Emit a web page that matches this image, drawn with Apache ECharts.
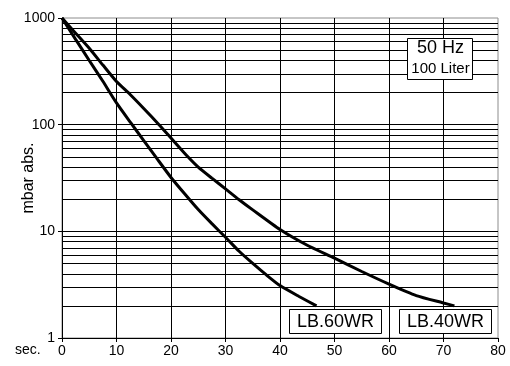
<!DOCTYPE html>
<html>
<head>
<meta charset="utf-8">
<script src="https://cdn.jsdelivr.net/npm/echarts@6/dist/echarts.min.js"></script>
<style>html,body{margin:0;padding:0;background:#fff}#c{width:510px;height:366px}</style>
</head>
<body>
<div id="c"></div>
<script>
const lb60Time = [0, 2.5, 5, 7.5, 10, 12.5, 15, 17.5, 20, 22.5, 25, 27.5, 30, 32.5, 35, 37.5, 40, 43.5, 46.7];
const lb60Pressure = [1000, 630, 400, 255, 160, 106, 71, 47.5, 32, 22.5, 16, 11.8, 8.8, 6.5, 5.0, 3.9, 3.1, 2.45, 2.0];
const lb40Time = [0, 2.5, 5, 7.5, 10, 12.5, 15, 17.8, 20, 23.1, 25, 27.5, 30, 32.5, 35, 40, 45, 50, 55, 60, 65, 70, 72];
const lb40Pressure = [1000, 720, 520, 362, 254, 192, 142, 100, 75, 50, 40, 31.5, 25, 19.8, 15.9, 10.4, 7.4, 5.6, 4.2, 3.2, 2.5, 2.13, 2.0];
const xTicks = [0, 10, 20, 30, 40, 50, 60, 70, 80];
const yTicks = [1, 10, 100, 1000];
const minorGrid = [2,3,4,5,6,7,8,9,20,30,40,50,60,70,80,90,200,300,400,500,600,700,800,900];
const seriesNames = ['LB.60WR', 'LB.40WR'];

const font = '"Liberation Sans", Arial, sans-serif';
const chart = echarts.init(document.getElementById('c'), null, {renderer: 'canvas'});
const zip = (a, b) => a.map((v, i) => [v, b[i]]);

chart.setOption({
  animation: false,
  backgroundColor: '#fff',
  grid: {left: 62, right: 12, top: 18, bottom: 28, containLabel: false, outerBoundsMode: 'none',
         show: true, borderColor: '#8c8c8c', borderWidth: 1, backgroundColor: 'transparent'},
  xAxis: {
    type: 'value', min: xTicks[0], max: xTicks[xTicks.length - 1], interval: 10,
    axisLine: {show: true, onZero: false, lineStyle: {color: '#000', width: 1}},
    axisTick: {show: true, length: 4, lineStyle: {color: '#000'}},
    axisLabel: {color: '#000', fontFamily: font, fontSize: 14, margin: 6},
    splitLine: {show: true, showMinLine: false, showMaxLine: false, lineStyle: {color: '#000', width: 1}}
  },
  yAxis: {
    type: 'log', logBase: 10, min: yTicks[0], max: yTicks[yTicks.length - 1],
    axisLine: {show: true, lineStyle: {color: '#000', width: 1}},
    axisTick: {show: true, length: 4, lineStyle: {color: '#000'}},
    axisLabel: {color: '#000', fontFamily: font, fontSize: 14, margin: 7, formatter: v => String(v)},
    splitLine: {show: true, showMinLine: false, showMaxLine: false, lineStyle: {color: '#000', width: 1}},
    name: 'mbar abs.', nameLocation: 'middle', nameGap: 25, nameRotate: 90, nameMoveOverlap: false,
    nameTextStyle: {color: '#000', fontFamily: font, fontSize: 16}
  },
  series: [
    {
      name: seriesNames[0], type: 'line', data: zip(lb60Time, lb60Pressure), smooth: 0.2,
      showSymbol: false, lineStyle: {color: '#000', width: 3}, z: 5,
      markLine: {
        silent: true, symbol: 'none', label: {show: false},
        lineStyle: {color: '#000', width: 1, type: 'solid'},
        data: minorGrid.map(v => ({yAxis: v})), z: 1
      }
    },
    {
      name: seriesNames[1], type: 'line', data: zip(lb40Time, lb40Pressure), smooth: 0.2,
      showSymbol: false, lineStyle: {color: '#000', width: 3}, z: 5
    }
  ],
  graphic: [
    {type: 'text', left: 15, top: 343, style: {text: 'sec.', fill: '#000', font: '14px ' + font}},
    {type: 'rect', shape: {x: 407.5, y: 38.5, width: 65, height: 41}, style: {fill: '#fff', stroke: '#000', lineWidth: 1}, z: 10},
    {type: 'text', x: 440.5, y: 48.5, style: {text: '50 Hz', fill: '#000', font: '18px ' + font, align: 'center', verticalAlign: 'middle'}, z: 11},
    {type: 'text', x: 440.5, y: 68.5, style: {text: '100 Liter', fill: '#000', font: '15px ' + font, align: 'center', verticalAlign: 'middle'}, z: 11},
    {type: 'rect', shape: {x: 289.5, y: 309.5, width: 92, height: 24}, style: {fill: '#fff', stroke: '#000', lineWidth: 1}, z: 10},
    {type: 'text', x: 335.5, y: 322, style: {text: seriesNames[0], fill: '#000', font: '18px ' + font, align: 'center', verticalAlign: 'middle'}, z: 11},
    {type: 'rect', shape: {x: 399.5, y: 309.5, width: 92, height: 24}, style: {fill: '#fff', stroke: '#000', lineWidth: 1}, z: 10},
    {type: 'text', x: 445.5, y: 322, style: {text: seriesNames[1], fill: '#000', font: '18px ' + font, align: 'center', verticalAlign: 'middle'}, z: 11}
  ]
});
</script>
</body>
</html>
